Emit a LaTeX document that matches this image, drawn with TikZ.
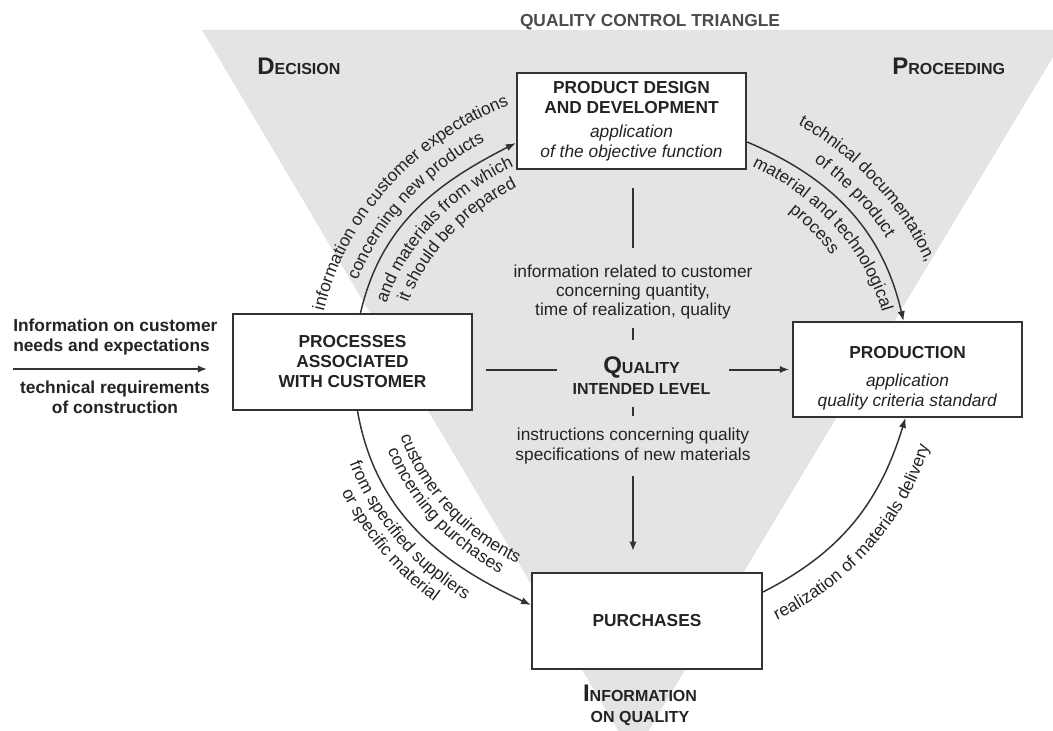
\documentclass[tikz,border=0pt]{standalone}
\usepackage{fontspec}
\setmainfont{Liberation Sans}
\usetikzlibrary{positioning, arrows.meta, calc, decorations.text}
\definecolor{qtfill}{RGB}{228,228,228}
\definecolor{qtline}{RGB}{50,50,50}
\definecolor{qttext}{RGB}{35,35,35}
\definecolor{qttitle}{RGB}{75,75,75}
\newcommand{\qtsc}[2]{{\fontsize{18}{18}\selectfont #1}{\fontsize{12}{14}\selectfont #2}}
\newcommand{\curvefont}{\fontsize{13}{15}\selectfont\color{qttext}}

\begin{document}
\begin{tikzpicture}[
  x=0.75pt, y=0.75pt,
  box/.style={rectangle, draw=qtline, line width=1.5pt, fill=white,
              minimum width=172pt, minimum height=72pt, align=center,
              font=\fontsize{13}{15}\selectfont, text=qttext, inner sep=2pt},
  txt/.style={align=center, font=\fontsize{13}{14.3}\selectfont, text=qttext, inner sep=0pt},
  side/.style={font=\fontsize{13}{15}\selectfont\bfseries, text=qttext, inner sep=0pt},
  corner/.style={font=\fontsize{12}{15.75}\selectfont\bfseries, text=qttext, inner sep=0pt},
  link/.style={draw=qtline, line width=1.5pt},
  arr/.style={link, -{Latex[length=7pt, width=5.5pt]}},
  flow/.style={draw=qtline, line width=1.1pt, -{Latex[length=7.5pt, width=5.5pt]}},
  curvetext/.style={decorate, decoration={text along path, text={|\curvefont|#1}, text align=center}}
]
\useasboundingbox (0,0) rectangle (1053,-731);

% ===== TRIANGLE =====
\fill[qtfill] (202,-30) -- (1053,-30) -- (1053,-57) -- (648.4,-731) -- (618.4,-731) -- cycle;
\node[font=\fontsize{13}{15}\selectfont\bfseries, text=qttitle, inner sep=0pt] (title) at (650,-22) {QUALITY CONTROL TRIANGLE};
\node[corner, anchor=base west] (decision) at (257,-75) {\qtsc{D}{ECISION}};
\node[corner, anchor=base west] (proceeding) at (892,-75) {\qtsc{P}{ROCEEDING}};
\node[corner, align=center, anchor=north] (infoq) at (640,-685) {\qtsc{I}{NFORMATION}\\ON QUALITY};

% ===== BOXES =====
\node[box] (design) at (631.5,-121) {\textbf{PRODUCT DESIGN}\\\textbf{AND DEVELOPMENT}\\[3pt]
  \textit{application}\\\textit{of the objective function}};
\node[box, minimum width=179pt] (proc) at (352.5,-362) {\textbf{PROCESSES}\\\textbf{ASSOCIATED}\\\textbf{WITH CUSTOMER}};
\node[box, minimum height=71pt] (prod) at (907.5,-369.5) {\rule{0pt}{22pt}\textbf{PRODUCTION}\\[6pt]
  \textit{application}\\\textit{quality criteria standard}};
\node[box, minimum width=172.5pt] (purch) at (647,-621) {\textbf{PURCHASES}};

% ===== CENTRE =====
\node[txt] (info) at (633,-292) {information related to customer\\concerning quantity,\\time of realization, quality};
\node[corner, align=center] (quality) at (641.5,-375.75) {\qtsc{Q}{UALITY}\\INTENDED LEVEL};
\node[txt] (instr) at (633,-446) {instructions concerning quality\\specifications of new materials};

\draw[link, shorten <=13.5pt, shorten >=12.75pt] (design.south -| info.north) -- (info.north);
\draw[link, shorten <=6.75pt, shorten >=12.4pt] (info.south) -- (info.south |- quality.north);
\draw[link, shorten <=9pt, shorten >=9pt] (info.south |- quality.south) -- (instr.north);
\draw[arr, shorten <=9pt, shorten >=15.75pt] (instr.south) -- (instr.south |- purch.north);
\draw[link, shorten <=9.75pt, shorten >=11.25pt] (proc.east |- prod.west) -- (quality.west |- prod.west);
\draw[arr, shorten <=13.5pt, shorten >=2pt] (quality.east |- prod.west) -- (prod.west);

% ===== INPUT =====
\node[side, align=left, anchor=west] (needs) at (13,-337.5) {Information on customer\\needs and expectations};
\node[side, align=center] (techreq) at (115,-397) {technical requirements\\of construction};
\coordinate (inflow) at (13,-369);
\draw[arr, shorten >=18.75pt] (inflow) -- (inflow -| proc.west);

% ===== CYCLE ARROWS =====
\coordinate (ctr) at (633,-372);
\draw[flow] ($(proc.north)+(8,0)$) to[out=77, in=207] ($(design.west)+(0,-22)$);
\draw[flow] ($(design.east)+(0,-21)$) to[out=-23, in=103] ($(prod.north)+(-4,0)$);
\draw[flow] ($(proc.south)+(5,0)$) to[out=-80, in=155] ($(purch.west)+(0,16)$);
\draw[flow] ($(purch.east)+(0,29)$) to[out=27, in=253] ($(prod.south)+(-2,0)$);

% ===== ARC LABELS =====
% customer -> design
\path[curvetext={information on customer expectations}] (ctr) ++(181:316 and 290) arc[start angle=181, end angle=101, x radius=316, y radius=290];
\path[curvetext={concerning new products}] (ctr) ++(181:293 and 267) arc[start angle=181, end angle=101, x radius=293, y radius=267];
\path[curvetext={and materials from which}] (ctr) ++(181:258 and 232) arc[start angle=181, end angle=101, x radius=258, y radius=232];
\path[curvetext={it should be prepared}] (ctr) ++(181:238 and 212) arc[start angle=181, end angle=101, x radius=238, y radius=212];
% design -> production
\path[curvetext={technical documentation,}] (ctr) ++(79.5:316 and 290) arc[start angle=79.5, end angle=-0.5, x radius=316, y radius=290];
\path[curvetext={of the product}] (ctr) ++(80:293 and 267) arc[start angle=80, end angle=0, x radius=293, y radius=267];
\path[curvetext={material and technological}] (ctr) ++(78:258 and 232) arc[start angle=78, end angle=-2, x radius=258, y radius=232];
\path[curvetext={process}] (ctr) ++(80:238 and 212) arc[start angle=80, end angle=0, x radius=238, y radius=212];
% customer -> purchases
\path[curvetext={customer requirements}] (ctr) ++(178.5:243.5 and 217.5) arc[start angle=178.5, end angle=258.5, x radius=243.5, y radius=217.5];
\path[curvetext={concerning purchases}] (ctr) ++(178.5:260.5 and 234.5) arc[start angle=178.5, end angle=258.5, x radius=260.5, y radius=234.5];
\path[curvetext={from specified suppliers}] (ctr) ++(177:300.5 and 274.5) arc[start angle=177, end angle=257, x radius=300.5, y radius=274.5];
\path[curvetext={or specific material}] (ctr) ++(177:319.5 and 293.5) arc[start angle=177, end angle=257, x radius=319.5, y radius=293.5];
% purchases -> production
\path[curvetext={realization of materials delivery}] (ctr) ++(282:307 and 281) arc[start angle=282, end angle=362, x radius=307, y radius=281];

\end{tikzpicture}
\end{document}
